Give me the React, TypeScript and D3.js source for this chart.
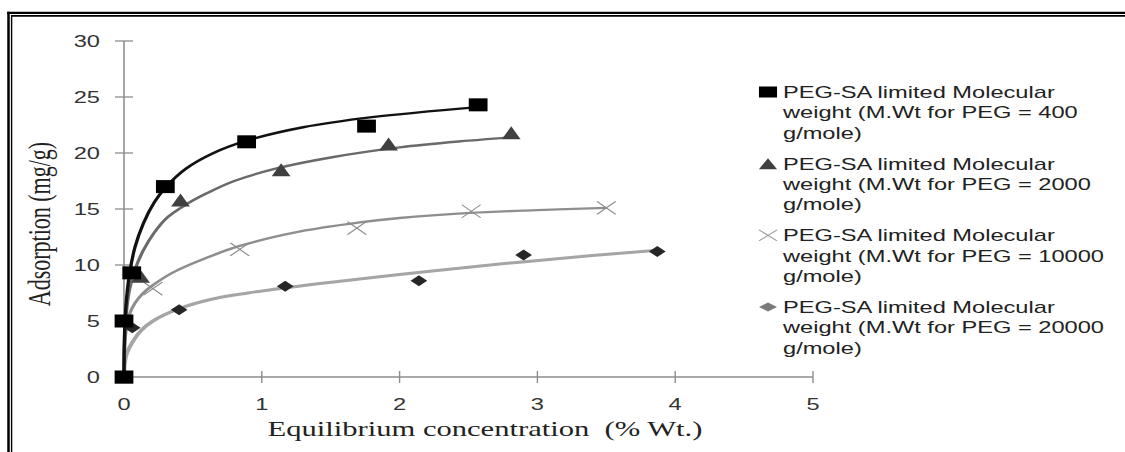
import * as d3 from 'd3';

const WIDTH = 1125;
const HEIGHT = 452;
// the source picture is stretched sideways; draw in narrow units and stretch x
const STRETCH = 1.39;

const X_TICKS = [0, 1, 2, 3, 4, 5];
const Y_TICKS = [0, 5, 10, 15, 20, 25, 30];

type Pt = [number, number];

// measured points
const PEG400_POINTS: Pt[] = [[0, 0], [0, 5], [0.056, 9.3], [0.3, 17], [0.89, 21], [1.76, 22.4], [2.57, 24.3]];
const PEG2000_POINTS: Pt[] = [[0, 0], [0.12, 9.0], [0.41, 15.8], [1.14, 18.5], [1.92, 20.8], [2.81, 21.8]];
const PEG10000_POINTS: Pt[] = [[0.21, 7.9], [0.84, 11.4], [1.69, 13.3], [2.52, 14.8], [3.5, 15.1]];
const PEG20000_POINTS: Pt[] = [[0, 0], [0.06, 4.4], [0.4, 6.0], [1.17, 8.1], [2.14, 8.6], [2.9, 10.9], [3.87, 11.2]];

// trend lines
const PEG400_TREND: Pt[] = [
  [0, 0], [0.003, 3.5], [0.015, 6.5], [0.04, 9.2], [0.08, 11.6], [0.14, 13.7], [0.22, 15.6],
  [0.3, 16.9], [0.45, 18.6], [0.65, 20], [0.89, 21.1], [1.3, 22.3], [1.8, 23.2], [2.57, 24.1],
];
const PEG2000_TREND: Pt[] = [
  [0, 0], [0.004, 3], [0.015, 5.5], [0.04, 7.8], [0.08, 9.6], [0.14, 11.3], [0.22, 12.9], [0.32, 14.3],
  [0.45, 15.4], [0.6, 16.4], [0.8, 17.5], [1.1, 18.6], [1.5, 19.6], [2, 20.5], [2.5, 21.1], [2.8, 21.4],
];
const PEG10000_TREND: Pt[] = [
  [0, 0], [0.004, 2.4], [0.015, 4.2], [0.04, 5.6], [0.08, 6.6], [0.14, 7.5], [0.21, 8.2], [0.35, 9.3],
  [0.55, 10.4], [0.84, 11.7], [1.28, 13], [1.71, 13.8], [2, 14.2], [2.51, 14.65], [3, 14.9], [3.5, 15.1],
];
const PEG20000_TREND: Pt[] = [
  [0, 0], [0.005, 1.2], [0.02, 2.1], [0.056, 3], [0.12, 4.1], [0.21, 5], [0.4, 6.1], [0.62, 6.9],
  [0.9, 7.5], [1.16, 7.95], [1.6, 8.6], [2, 9.15], [2.5, 9.8], [2.91, 10.3], [3.4, 10.85], [3.85, 11.3],
];

const LEGEND_MW = ['400', '2000', '10000', '20000'];

const SERIES = [
  { mw: LEGEND_MW[0], points: PEG400_POINTS, trend: PEG400_TREND, marker: 'square', fill: '#000000', legendFill: '#000000', line: '#111111', lineWidth: 2.4 },
  { mw: LEGEND_MW[1], points: PEG2000_POINTS, trend: PEG2000_TREND, marker: 'triangle', fill: '#404040', legendFill: '#404040', line: '#6a6a6a', lineWidth: 2.4 },
  { mw: LEGEND_MW[2], points: PEG10000_POINTS, trend: PEG10000_TREND, marker: 'cross', fill: '#8a8a8a', legendFill: '#a0a0a0', line: '#8e8e8e', lineWidth: 2.4 },
  { mw: LEGEND_MW[3], points: PEG20000_POINTS, trend: PEG20000_TREND, marker: 'diamond', fill: '#262626', legendFill: '#7a7a7a', line: '#a5a5a5', lineWidth: 3 },
];

const Marker = ({ type, cx, cy, w, h, fill }: { type: string; cx: number; cy: number; w: number; h: number; fill: string }) => {
  if (type === 'square') {
    return <rect x={cx - w / 2} y={cy - h / 2} width={w} height={h} fill={fill} />;
  }
  if (type === 'triangle') {
    return <path d={`M${cx},${cy - h / 2}L${cx + w / 2},${cy + h / 2}L${cx - w / 2},${cy + h / 2}Z`} fill={fill} />;
  }
  if (type === 'diamond') {
    return <path d={`M${cx},${cy - h / 2}L${cx + w / 2},${cy}L${cx},${cy + h / 2}L${cx - w / 2},${cy}Z`} fill={fill} />;
  }
  return (
    <path
      d={`M${cx - w / 2},${cy - h / 2}L${cx + w / 2},${cy + h / 2}M${cx - w / 2},${cy + h / 2}L${cx + w / 2},${cy - h / 2}`}
      stroke={fill}
      strokeWidth={1}
      fill="none"
    />
  );
};

const App = () => {
  const x = d3.scaleLinear().domain([0, 5]).range([124 / STRETCH, 813 / STRETCH]);
  const y = d3.scaleLinear().domain([0, 30]).range([377, 41]);

  const line = d3
    .line<Pt>()
    .x(d => x(d[0]))
    .y(d => y(d[1]))
    .curve(d3.curveCatmullRom.alpha(0.5));

  const axisColor = '#8c8c8c';
  const textColor = '#333333';
  const sans = '"Liberation Sans", Arial, sans-serif';
  const serif = '"Liberation Serif", "Times New Roman", serif';

  const legendX = 768 / STRETCH;
  const legendTextX = 783 / STRETCH;
  const legendTop = 98;
  const entryStep = 71.7;
  const lineStep = 20.3;

  return (
    <svg width={WIDTH} height={HEIGHT} style={{ position: 'absolute', left: 0, top: 0, background: '#fff' }}>
      {/* double frame */}
      <g fill="none" stroke="#000">
        <line x1={8.5} x2={8.5} y1={11.7} y2={HEIGHT} strokeWidth={2.5} />
        <line x1={11.6} x2={11.6} y1={15} y2={HEIGHT} strokeWidth={1.4} />
        <line x1={7.2} x2={WIDTH} y1={12.8} y2={12.8} strokeWidth={2.3} />
        <line x1={11} x2={WIDTH} y1={15.9} y2={15.9} strokeWidth={1.6} />
      </g>

      <g transform={`scale(${STRETCH},1)`}>
        {/* axes */}
        <line x1={x(0)} x2={x(0)} y1={y(0)} y2={y(30)} stroke={axisColor} strokeWidth={1.1} />
        <line x1={x(0)} x2={x(5)} y1={y(0)} y2={y(0)} stroke={axisColor} strokeWidth={1.5} />
        {Y_TICKS.map(t => (
          <g key={`yt-${t}`}>
            <line x1={x(0) - 6.5} x2={x(0) + 6.5} y1={y(t)} y2={y(t)} stroke={axisColor} strokeWidth={1.3} />
            <text x={100 / STRETCH} y={y(t) + 6} textAnchor="end" fontFamily={sans} fontSize={17} fill={textColor}>
              {t}
            </text>
          </g>
        ))}
        {X_TICKS.map(t => (
          <g key={`xt-${t}`}>
            <line x1={x(t)} x2={x(t)} y1={y(0) - 6} y2={y(0) + 6} stroke={axisColor} strokeWidth={1} />
            <text x={x(t)} y={410} textAnchor="middle" fontFamily={sans} fontSize={17} fill={textColor}>
              {t}
            </text>
          </g>
        ))}

        {/* axis titles */}
        <text
          x={485 / STRETCH}
          y={436}
          textAnchor="middle"
          fontFamily={serif}
          fontSize={22}
          fill="#222"
          style={{ whiteSpace: 'pre' }}
        >
          {'Equilibrium concentration  (% Wt.)'}
        </text>
        <text
          transform={`translate(${50 / STRETCH},224) rotate(-90)`}
          textAnchor="middle"
          fontFamily={serif}
          fontSize={22}
          fill="#222"
        >
          Adsorption (mg/g)
        </text>

        {/* trend lines */}
        {[...SERIES].reverse().map(s => (
          <path key={`trend-${s.mw}`} d={line(s.trend) ?? ''} fill="none" stroke={s.line} strokeWidth={s.lineWidth} />
        ))}

        {/* data markers */}
        {[...SERIES].reverse().map(s =>
          s.points.map((p, i) => (
            <Marker
              key={`pt-${s.mw}-${i}`}
              type={s.marker}
              cx={x(p[0])}
              cy={y(p[1])}
              w={s.marker === 'diamond' ? 12 : 13.5}
              h={s.marker === 'diamond' ? 11 : 13}
              fill={s.fill}
            />
          ))
        )}

        {/* legend */}
        {SERIES.map((s, i) => {
          const base = legendTop + i * entryStep;
          return (
            <g key={`legend-${s.mw}`}>
              <Marker type={s.marker} cx={legendX} cy={base - 6} w={13} h={s.marker === 'diamond' ? 9 : 11} fill={s.legendFill} />
              {['PEG-SA limited Molecular', `weight (M.Wt for PEG = ${s.mw}`, 'g/mole)'].map((txt, j) => (
                <text key={txt} x={legendTextX} y={base + j * lineStep} fontFamily={sans} fontSize={17} fill="#222">
                  {txt}
                </text>
              ))}
            </g>
          );
        })}
      </g>
    </svg>
  );
};

export default App;
